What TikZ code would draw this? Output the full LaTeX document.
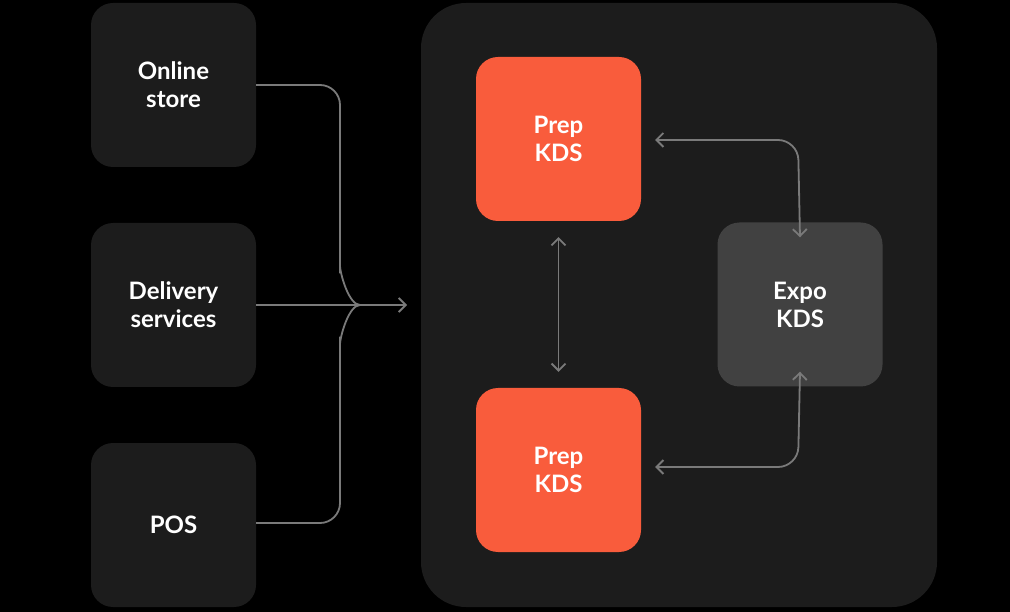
\documentclass[tikz,border=0pt]{standalone}
\usepackage{fontspec}
\setmainfont{Lato}
\usetikzlibrary{arrows.meta}
\definecolor{bx}{HTML}{1C1C1C}
\definecolor{pr}{HTML}{F95C3C}
\definecolor{ex}{HTML}{414141}
\definecolor{ln}{HTML}{7A7A7A}
\begin{document}
\begin{tikzpicture}[x=1pt,y=-1pt,
 box/.style={fill=bx,rounded corners=22pt,minimum width=165pt,minimum height=164pt,text=white,font=\fontsize{24}{28}\selectfont\bfseries,align=center,inner sep=0pt},
 con/.style={draw=ln,line width=1.8pt,rounded corners=20pt},
 tip/.style={-{Straight Barb[length=7pt,width=14pt,line width=1.8pt]}},
 dtip/.style={{Straight Barb[length=7pt,width=14pt,line width=1.8pt]}-{Straight Barb[length=7pt,width=14pt,line width=1.8pt]}}]
\fill[black] (0,0) rectangle (1010,612);
\fill[bx,rounded corners=45pt] (421,3) rectangle (937,607);
\node[box] (on) at (173.5,85) {Online\\store};
\node[box] (de) at (173.5,305) {Delivery\\services};
\node[box] (po) at (173.5,525) {POS};
\node[box,fill=pr] (p1) at (558.5,139) {Prep\\KDS};
\node[box,fill=pr] (p2) at (558.5,470) {Prep\\KDS};
\node[box,fill=ex] (ex) at (800,304.5) {Expo\\KDS};
\coordinate (in) at (407,305);
\draw[con] (on.east|-0,85) -- (340,85) -- (340,285) to[out=90,in=180] (360,305);
\draw[con] (po.east|-0,523) -- (340,523) -- (340,325) to[out=-90,in=180] (360,305);
\draw[con,tip,rounded corners=0pt] (de.east) -- (in);
\draw[con,dtip,rounded corners=0pt] ([yshift=-16pt]p1.south) -- ([yshift=16pt]p2.north);
\draw[con,dtip] ([xshift=14pt]p1.east|-0,140) -- (798,140) -- ([yshift=-15pt]ex.north);
\draw[con,dtip] ([xshift=14pt]p2.east|-0,467) -- (798,467) -- ([yshift=15pt]ex.south);
\end{tikzpicture}
\end{document}
